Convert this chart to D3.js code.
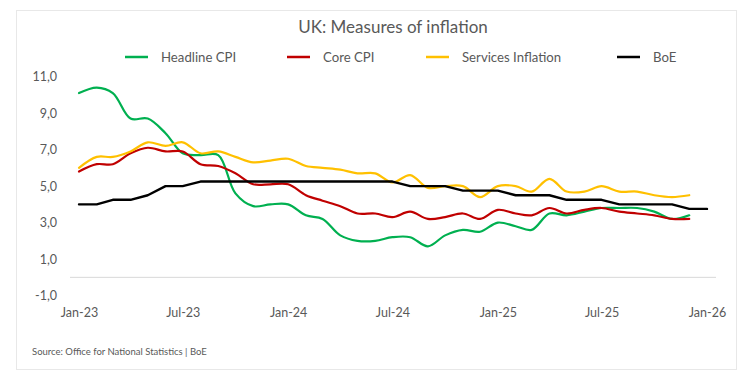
<!DOCTYPE html>
<html>
<head>
<meta charset="utf-8">
<script src="https://cdn.jsdelivr.net/npm/d3@7"></script>
<style>
  html, body { margin: 0; padding: 0; background: #ffffff; }
  svg { display: block; }
  text { font-family: Lato, "Open Sans", sans-serif; fill: #595959; }
</style>
</head>
<body>
<svg id="chart" width="755" height="384"></svg>
<script>
// ---- Data ----
const months = [
  "2023-01","2023-02","2023-03","2023-04","2023-05","2023-06","2023-07","2023-08","2023-09","2023-10","2023-11","2023-12",
  "2024-01","2024-02","2024-03","2024-04","2024-05","2024-06","2024-07","2024-08","2024-09","2024-10","2024-11","2024-12",
  "2025-01","2025-02","2025-03","2025-04","2025-05","2025-06","2025-07","2025-08","2025-09","2025-10","2025-11","2025-12",
  "2026-01"
];
const headlineCPI = [10.1,10.4,10.1,8.7,8.7,7.9,6.8,6.7,6.7,4.6,3.9,4.0,
                     4.0,3.4,3.2,2.3,2.0,2.0,2.2,2.2,1.7,2.3,2.6,2.5,
                     3.0,2.8,2.6,3.5,3.4,3.6,3.8,3.8,3.8,3.6,3.2,3.4];
const coreCPI = [5.8,6.2,6.2,6.8,7.1,6.9,6.9,6.2,6.1,5.7,5.1,5.1,
                 5.1,4.5,4.2,3.9,3.5,3.5,3.3,3.6,3.2,3.3,3.5,3.2,
                 3.7,3.5,3.4,3.8,3.5,3.7,3.8,3.6,3.5,3.4,3.2,3.2];
const servicesInflation = [6.0,6.6,6.6,6.9,7.4,7.2,7.4,6.8,6.9,6.6,6.3,6.4,
                           6.5,6.1,6.0,5.9,5.7,5.7,5.2,5.6,4.9,5.0,5.0,4.4,
                           5.0,5.0,4.7,5.4,4.7,4.7,5.0,4.7,4.7,4.5,4.4,4.5];
const boeRate = [4.0,4.0,4.25,4.25,4.5,5.0,5.0,5.25,5.25,5.25,5.25,5.25,
                 5.25,5.25,5.25,5.25,5.25,5.25,5.25,5.0,5.0,5.0,4.75,4.75,
                 4.75,4.5,4.5,4.5,4.25,4.25,4.25,4.0,4.0,4.0,4.0,3.75,
                 3.75];
const yTicks = [-1, 1, 3, 5, 7, 9, 11];
const xTickDates = ["2023-01","2023-07","2024-01","2024-07","2025-01","2025-07","2026-01"];
const xTickLabels = ["Jan-23","Jul-23","Jan-24","Jul-24","Jan-25","Jul-25","Jan-26"];

const series = [
  { name: "Headline CPI", values: headlineCPI, color: "#00B050", width: 2.2, smooth: true },
  { name: "Core CPI", values: coreCPI, color: "#C00000", width: 2.2, smooth: true },
  { name: "Services Inflation", values: servicesInflation, color: "#FFC000", width: 2.2, smooth: true },
  { name: "BoE", values: boeRate, color: "#000000", width: 2.4, smooth: false }
];
const legendX = [125, 287, 426, 617];

// ---- Layout ----
const svg = d3.select("#chart");
const parse = d3.timeParse("%Y-%m");

const x = d3.scaleTime()
  .domain([parse("2023-01"), parse("2026-01")])
  .range([79, 707]);
const y = d3.scaleLinear()
  .domain([-1, 11])
  .range([295.6, 76.6]);

// Card frame
svg.append("rect")
  .attr("x", 16.5).attr("y", 10.5)
  .attr("width", 720).attr("height", 359)
  .attr("fill", "#ffffff")
  .attr("stroke", "#e8e8e8")
  .attr("stroke-width", 1);

// Title
svg.append("text")
  .attr("x", 393).attr("y", 33)
  .attr("text-anchor", "middle")
  .attr("font-size", 17)
  .text("UK: Measures of inflation");

// Legend
series.forEach((s, i) => {
  const g = svg.append("g").attr("transform", `translate(${legendX[i]},57)`);
  g.append("line")
    .attr("x1", 0).attr("x2", 23)
    .attr("y1", 0).attr("y2", 0)
    .attr("stroke", s.color)
    .attr("stroke-width", 2.5);
  g.append("text")
    .attr("x", 36).attr("y", 4.5)
    .attr("font-size", 13.2)
    .text(s.name);
});

// Y axis labels (no line)
const yAxis = d3.axisLeft(y)
  .tickValues(yTicks)
  .tickSize(0)
  .tickPadding(0)
  .tickFormat(d => d3.format(".1f")(d).replace(".", ",").replace("−", "-"));
const yG = svg.append("g")
  .attr("transform", "translate(57,0)")
  .call(yAxis);
yG.select(".domain").remove();
yG.selectAll("text")
  .attr("font-size", 12.5)
  .attr("fill", "#595959")
  .style("font-family", "Lato, 'Open Sans', sans-serif");

// Zero baseline
svg.append("line")
  .attr("x1", 70).attr("x2", 716)
  .attr("y1", y(0)).attr("y2", y(0))
  .attr("stroke", "#d9d9d9")
  .attr("stroke-width", 1);

// X axis labels
const xAxis = d3.axisBottom(x)
  .tickValues(xTickDates.map(parse))
  .tickSize(0)
  .tickPadding(0)
  .tickFormat((d, i) => xTickLabels[i]);
const xG = svg.append("g")
  .attr("transform", "translate(0,308.5)")
  .call(xAxis);
xG.select(".domain").remove();
xG.selectAll("text")
  .attr("font-size", 12.5)
  .attr("fill", "#595959")
  .style("font-family", "Lato, 'Open Sans', sans-serif");

// Lines
series.forEach(s => {
  const line = d3.line()
    .x((d, i) => x(parse(months[i])))
    .y(d => y(d))
    .curve(s.smooth ? d3.curveCatmullRom.alpha(0.5) : d3.curveLinear);
  svg.append("path")
    .datum(s.values)
    .attr("fill", "none")
    .attr("stroke", s.color)
    .attr("stroke-width", s.width)
    .attr("stroke-linejoin", "round")
    .attr("stroke-linecap", "round")
    .attr("d", line);
});

// Source
svg.append("text")
  .attr("x", 32).attr("y", 354.5)
  .attr("font-size", 9.5)
  .text("Source: Office for National Statistics | BoE");
</script>
</body>
</html>
